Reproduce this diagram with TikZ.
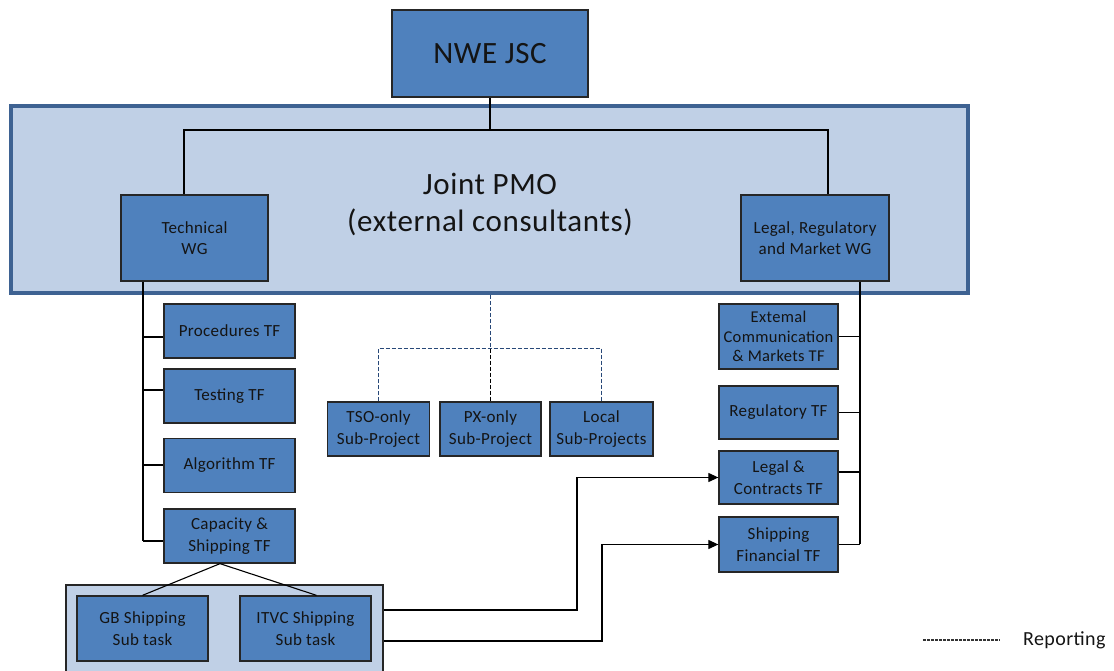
\documentclass[tikz,border=0pt]{standalone}
\usepackage{fontspec}
\setmainfont{Carlito}[LetterSpace=2]
\usetikzlibrary{arrows.meta}
\definecolor{boxblue}{RGB}{79,129,189}
\definecolor{boxedge}{RGB}{38,38,38}
\definecolor{pmofill}{RGB}{192,208,230}
\definecolor{pmoedge}{RGB}{62,98,146}
\definecolor{dashblue}{RGB}{40,72,120}
\definecolor{txt}{RGB}{20,20,20}
\tikzset{
  orgbox/.style={draw=boxedge, line width=1.3pt, fill=boxblue, text=txt, align=center,
    inner sep=0pt, font=\fontsize{17}{21.5}\selectfont},
  link/.style={draw=black, line width=1.2pt},
  report/.style={draw=dashblue, line width=1.5pt, dash pattern=on 4pt off 2pt},
  reportk/.style={draw=black, line width=1.5pt, dash pattern=on 4pt off 2pt},
  arr/.style={link, -{Triangle[length=10pt,width=9pt]}},
}
\begin{document}
\begin{tikzpicture}[x=1pt,y=-1pt]
\useasboundingbox (0,0) rectangle (1114,671);
% Joint PMO container
\node[draw=pmoedge, line width=3.5pt, fill=pmofill, minimum width=957pt, minimum height=187pt,
  inner sep=0pt] (pmo) at (489.5,199.5) {};
\node[text=txt, align=center, font=\fontsize{31}{37}\selectfont] (pmotxt) at (490,204) {Joint PMO\\(external consultants)};
% bottom group container
\node[draw=boxedge, line width=1.1pt, fill=pmofill, minimum width=317pt, minimum height=100pt,
  inner sep=0pt] (grp) at (224.5,635) {};
% boxes
\node[orgbox, minimum width=196pt, minimum height=87pt, font=\fontsize{31}{36}\selectfont] (nwe) at (490,53.5) {NWE JSC};
\node[orgbox, minimum width=147pt, minimum height=86pt] (tech) at (194.5,238) {Technical\\WG};
\node[orgbox, minimum width=148pt, minimum height=86pt] (legal) at (815,238) {Legal, Regulatory\\and Market WG};
\node[orgbox, minimum width=131pt, minimum height=54pt] (proc) at (229.5,331) {Procedures TF};
\node[orgbox, minimum width=131pt, minimum height=54pt] (test) at (229.5,396) {Testing TF};
\node[orgbox, minimum width=131pt, minimum height=54pt] (algo) at (229.5,465.5) {Algorithm TF};
\node[orgbox, minimum width=131pt, minimum height=54pt] (cap) at (229.5,536) {Capacity \&\\Shipping TF};
\node[orgbox, minimum width=131pt, minimum height=65pt] (gb) at (142.5,628.5) {GB Shipping\\Sub task};
\node[orgbox, minimum width=131pt, minimum height=65pt] (itvc) at (305.5,628.5) {ITVC Shipping\\Sub task};
\node[orgbox, minimum width=102pt, minimum height=54pt] (tso) at (378.5,429) {TSO-only\\Sub-Project};
\node[orgbox, minimum width=101pt, minimum height=54pt] (px) at (490.5,429) {PX-only\\Sub-Project};
\node[orgbox, minimum width=103pt, minimum height=54pt] (local) at (601.5,429) {Local\\Sub-Projects};
\node[orgbox, minimum width=119pt, minimum height=65pt, font=\fontsize{16.5}{19.5}\selectfont] (ext) at (778.5,336.5) {Extemal\\Communication\\\& Markets TF};
\node[orgbox, minimum width=119pt, minimum height=53pt] (reg) at (778.5,412.5) {Regulatory TF};
\node[orgbox, minimum width=119pt, minimum height=53pt] (lc) at (778.5,477.5) {Legal \&\\Contracts TF};
\node[orgbox, minimum width=119pt, minimum height=55pt] (sf) at (778.5,544.5) {Shipping\\Financial TF};
% top connectors
\draw[link] (nwe.south) -- (nwe.south |- 0,130);
\draw[link] (tech.north -| 184,0) |- (828,130) -- (legal.north -| 828,0);
% left trunk
\draw[link] (tech.south -| 143,0) -- (143,541);
\draw[link] (proc.west |- 0,337) -- (143,337);
\draw[link] (test.west |- 0,390) -- (143,390);
\draw[link] (algo.west |- 0,465) -- (143,465);
\draw[link] (cap.west |- 0,541) -- (143,541);
% capacity to subtasks
\draw[link, line width=1.1pt] ([xshift=-9.5pt]cap.south) -- (gb.north);
\draw[link, line width=1.1pt] ([xshift=-9.5pt]cap.south) -- ([xshift=11pt]itvc.north);
% right trunk
\draw[link] (legal.south -| 860,0) -- (860,544);
\draw[link] (ext.east) -- (ext.east -| 860,0);
\draw[link] (reg.east) -- (reg.east -| 860,0);
\draw[link] (lc.east |- 0,472) -- (860,472);
\draw[link] (sf.east) -- (sf.east -| 860,0);
% reporting (dashed)
\draw[report] (pmo.south -| px.north) -- (px.north |- 0,348.5);
\draw[report] (tso.north) |- (local.north |- 0,348.5) -- (local.north);
\draw[reportk] (px.north |- 0,348.5) -- (px.north);
% arrows from shipping subtasks
\draw[arr] (grp.east |- 0,610) -- (577,610) |- (lc.west);
\draw[arr] (grp.east |- 0,641) -- (602,641) |- (sf.west);
% legend
\coordinate (legA) at (923,640);
\coordinate (legB) at (1000,640);
\draw[draw=black!80, line width=1.1pt, dash pattern=on 2.5pt off 1.5pt] (legA) -- (legB);
\node[anchor=west, text=txt, font=\fontsize{20}{22}\selectfont, inner sep=0pt] (legtxt) at (1023,640) {Reporting};
\end{tikzpicture}
\end{document}
